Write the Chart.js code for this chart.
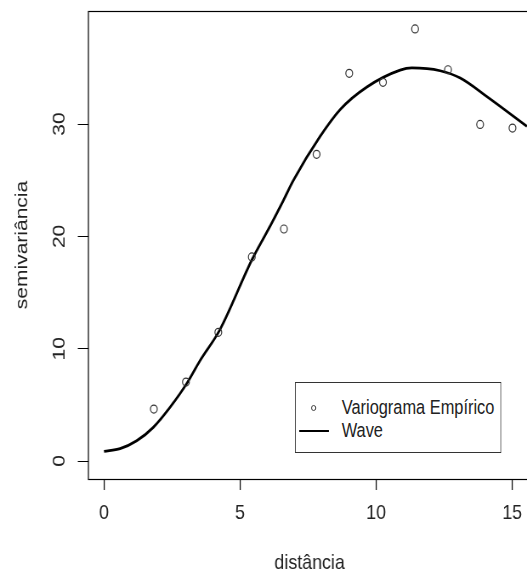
<!DOCTYPE html>
<html>
<head>
<meta charset="utf-8">
<script src="https://cdn.jsdelivr.net/npm/chart.js@4/dist/chart.umd.min.js"></script>
<style>
  html, body { margin: 0; padding: 0; background: #fff; overflow: hidden; }
  #outer { width: 527px; height: 576px; overflow: hidden; }
  /* drawn wide, then squeezed horizontally like the original figure */
  #wrap { position: relative; width: 659px; height: 576px; transform: scaleX(0.85); transform-origin: 0 0; }
  #legend {
    position: absolute; left: 347px; top: 382px; width: 243px; height: 71px;
    border: 1.3px solid #333; box-sizing: border-box; background: #fff;
    font-family: 'Liberation Sans', Arial, sans-serif;
    font-size: 19.3px; color: #222;
  }
  #legend .row { position: absolute; left: 0; height: 22px; line-height: 22px; white-space: nowrap; }
  #legend .txt { position: absolute; left: 54px; top: 0; }
  #legend .dot { position: absolute; left: 18px; top: 8px; width: 4px; height: 4px; border: 1px solid #333; border-radius: 50%; }
  #legend .ln { position: absolute; left: 4px; top: 10px; width: 35px; height: 0; border-top: 2.5px solid #000; }
</style>
</head>
<body>
<div id="outer">
<div id="wrap">
  <canvas id="chart"></canvas>
  <div id="legend"></div>
</div>
</div>
<script>
// empirical variogram (open circles)
const distEmp = [1.83, 3.01, 4.20, 5.43, 6.61, 7.81, 9.01, 10.25, 11.43, 12.64, 13.82, 15.01];
const semiEmp = [4.63, 7.03, 11.46, 18.17, 20.66, 27.31, 34.52, 33.72, 38.47, 34.84, 29.97, 29.65];

// fitted wave model
const distWave = [0.00, 0.59, 1.20, 1.81, 2.43, 3.04, 3.53, 4.26, 5.43, 6.10, 6.59, 6.96, 7.94, 8.68, 9.66, 10.88, 11.31, 12.35, 13.09, 14.07, 15.54];
const semiWave = [0.85, 1.10, 1.80, 3.00, 4.80, 6.90, 8.95, 11.7, 17.9, 20.9, 23.2, 25.0, 28.9, 31.3, 33.3, 34.8, 35.0, 34.75, 34.1, 32.45, 29.8];

const xTicks = [0, 5, 10, 15];
const yTicks = [0, 10, 20, 30];

const labelEmp = 'Variograma Empírico';
const labelWave = 'Wave';
const xTitle = 'distância';
const yTitle = 'semivariância';

Chart.defaults.font.family = "'Liberation Sans', Arial, sans-serif";
Chart.defaults.color = '#222';

const plotBox = {
  id: 'plotBox',
  afterDraw(chart) {
    const a = chart.chartArea, ctx = chart.ctx;
    ctx.save();
    ctx.strokeStyle = '#000';
    ctx.lineWidth = 1.2;
    ctx.strokeRect(a.left + 0.5, a.top + 0.5, a.right - a.left, a.bottom - a.top);
    ctx.restore();
  }
};

new Chart(document.getElementById('chart'), {
  type: 'scatter',
  data: {
    datasets: [
      {
        label: labelEmp,
        data: distEmp.map((d, i) => ({ x: d, y: semiEmp[i] })),
        pointStyle: 'circle',
        pointRadius: 4,
        borderWidth: 1.2,
        borderColor: '#333',
        backgroundColor: 'rgba(0,0,0,0)',
        showLine: false
      },
      {
        label: labelWave,
        type: 'line',
        data: distWave.map((d, i) => ({ x: d, y: semiWave[i] })),
        borderColor: '#000',
        borderWidth: 2.8,
        pointRadius: 0,
        fill: false,
        cubicInterpolationMode: 'monotone'
      }
    ]
  },
  options: {
    responsive: true,
    maintainAspectRatio: false,
    animation: false,
    layout: { padding: { top: 11, right: 34, left: 0, bottom: 0 } },
    plugins: { legend: { display: false }, tooltip: { enabled: false } },
    scales: {
      x: {
        type: 'linear',
        min: -0.59,
        max: 15.7,
        afterBuildTicks: (s) => { s.ticks = xTicks.map(v => ({ value: v })); },
        afterFit: (s) => { s.height = 97; s.paddingLeft = 0; s.paddingRight = 0; },
        border: { display: false },
        grid: { drawOnChartArea: false, drawTicks: true, tickLength: 11, color: '#000', lineWidth: 1.2 },
        ticks: { font: { size: 21 }, padding: 11, color: '#222' },
        title: { display: true, text: xTitle, font: { size: 21 }, padding: { top: 0, bottom: 0 }, color: '#222' }
      },
      y: {
        type: 'linear',
        min: -1.6,
        max: 40.07,
        afterBuildTicks: (s) => { s.ticks = yTicks.map(v => ({ value: v })); },
        afterFit: (s) => { s.width = 103.5; s.paddingTop = 0; s.paddingBottom = 0; },
        border: { display: false },
        grid: { drawOnChartArea: false, drawTicks: true, tickLength: 12, color: '#000' },
        ticks: { font: { size: 21 }, padding: 10, minRotation: 90, maxRotation: 90, crossAlign: 'center', color: '#222' },
        title: { display: true, text: yTitle, font: { size: 21 }, padding: { top: 14, bottom: 0 }, color: '#222' }
      }
    }
  },
  plugins: [plotBox]
});

// legend box inside the plot
const lg = document.getElementById('legend');
lg.innerHTML =
  '<div class="row" style="top:14px"><span class="dot"></span><span class="txt">' + labelEmp + '</span></div>' +
  '<div class="row" style="top:37px"><span class="ln"></span><span class="txt">' + labelWave + '</span></div>';
</script>
</body>
</html>
